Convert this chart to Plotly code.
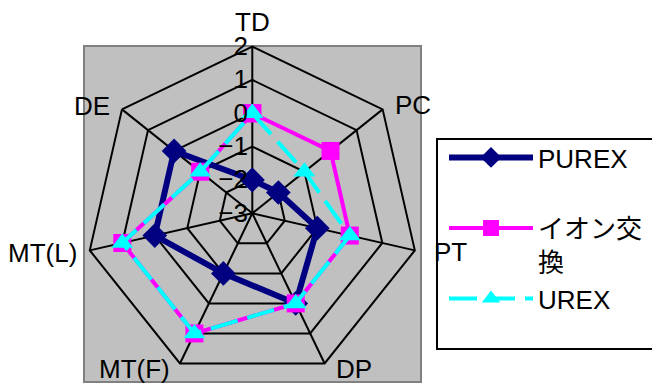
import math
import plotly.graph_objects as go

categories = ["TD", "PC", "PT", "DP", "MT(F)", "MT(L)", "DE"]
purex = [-2, -2, -1, 0, -1, 0, 0]
ion_exchange = [0, 0, 0, 0, 1, 1, -1]
urex = [0, -1, 0, 0, 1, 1, -1]
radial_ticks = [-3, -2, -1, 0, 1, 2]

W, H = 652, 385
FONT = "Liberation Sans, Arial, Noto Sans CJK JP, sans-serif"
FS = 26
R_MIN, R_MAX = radial_ticks[0], radial_ticks[-1]


def closed(v):
    return list(v) + [v[0]]


def radial(v):
    # plotly hides markers when the radial range starts below zero,
    # so the axis is based at the lowest tick and labelled with the true values
    return [x - R_MIN for x in closed(v)]


theta = closed(categories)

fig = go.Figure()
fig.add_trace(go.Scatterpolar(
    r=radial(purex), theta=theta, name="PUREX<br> ", mode="lines+markers",
    legendgroup="a",
    line=dict(color="#000080", width=6),
    marker=dict(symbol="diamond", size=19, color="#000080"),
))
fig.add_trace(go.Scatterpolar(
    r=radial(ion_exchange), theta=theta, name="イオン交<br>換", mode="lines+markers",
    legendgroup="b",
    line=dict(color="#FF00FF", width=4),
    marker=dict(symbol="square", size=18, color="#FF00FF"),
))
fig.add_trace(go.Scatterpolar(
    r=radial(urex), theta=theta, name="UREX", mode="lines+markers",
    legendgroup="c",
    line=dict(color="#00FFFF", width=4, dash="28px,10px"),
    marker=dict(symbol="triangle-up", size=19, color="#00FFFF"),
))

cx, cy, R = 252.3, 213.3, 166.7

# category labels placed just outside each outer vertex
label_offsets = {
    "TD": (0, -25, "center"), "PC": (10, -4, "left"), "PT": (17, 2, "left"),
    "DP": (9, 6, "left"), "MT(F)": (-8, 6, "right"), "MT(L)": (-11, 3, "right"),
    "DE": (-10, -3, "right"),
}
annotations = []
n = len(categories)
for i, cat in enumerate(categories):
    a = 2 * math.pi * i / n
    vx = cx + R * math.sin(a)
    vy = cy - R * math.cos(a)
    dx, dy, anchor = label_offsets[cat]
    annotations.append(dict(
        text=cat, xref="paper", yref="paper", showarrow=False,
        x=(vx + dx) / W, y=1 - (vy + dy) / H, xanchor=anchor, yanchor="middle",
        font=dict(size=FS, family=FONT, color="black"),
    ))

fig.update_layout(
    width=W, height=H,
    margin=dict(l=0, r=0, t=0, b=0),
    paper_bgcolor="white",
    font=dict(family=FONT, size=FS, color="black"),
    shapes=[
        dict(type="rect", xref="paper", yref="paper", layer="below",
             x0=84 / W, x1=421 / W, y0=1 - 382 / H, y1=1 - 46 / H,
             fillcolor="#C0C0C0", line=dict(color="#808080", width=2)),
        dict(type="rect", xref="paper", yref="paper", layer="above",
             x0=437 / W, x1=670 / W, y0=1 - 349 / H, y1=1 - 139 / H,
             fillcolor="white", line=dict(color="black", width=2)),
    ],
    annotations=annotations,
    polar=dict(
        domain=dict(x=[(cx - R) / W, (cx + R) / W], y=[1 - (cy + R) / H, 1 - (cy - R) / H]),
        bgcolor="rgba(0,0,0,0)",
        gridshape="linear",
        angularaxis=dict(direction="clockwise", rotation=90,
                         showline=True, linecolor="black", linewidth=2,
                         gridcolor="black", gridwidth=2,
                         ticks="", showticklabels=False),
        radialaxis=dict(range=[0, R_MAX - R_MIN],
                        tickvals=[t - R_MIN for t in radial_ticks],
                        ticktext=[str(t).replace("-", "\u2212") for t in radial_ticks],
                        angle=90, showline=False, gridcolor="black", gridwidth=2,
                        ticks="", tickfont=dict(size=FS, family=FONT),
                        side="counterclockwise", tickangle=90),
    ),
    legend=dict(x=444 / W, y=1 - 134 / H, xanchor="left", yanchor="top",
                borderwidth=0, bgcolor="rgba(0,0,0,0)",
                font=dict(size=FS, family=FONT), itemwidth=84,
                valign="top", tracegroupgap=0),
)
fig.write_html("out.html", config={"displayModeBar": False},
               post_script="document.body.style.margin='0';")
